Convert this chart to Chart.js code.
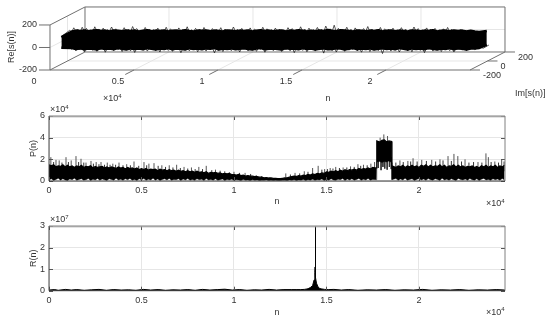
<!DOCTYPE html>
<html>
<head>
<meta charset="utf-8">
<script src="https://cdn.jsdelivr.net/npm/chart.js@4/dist/chart.umd.min.js"></script>
<style>
html,body{margin:0;padding:0;background:#fff;width:550px;height:323px;overflow:hidden}
canvas{position:absolute;left:0}
</style>
</head>
<body>
<canvas id="c1" width="550" height="105" style="top:0"></canvas>
<canvas id="c2" width="550" height="105" style="top:105px"></canvas>
<canvas id="c3" width="550" height="108" style="top:215px"></canvas>
<script>
// ---------- data ----------
const xTicks = [0, 5000, 10000, 15000, 20000];
const reTicks = [-200, 0, 200];
const imTicks = [-200, 0, 200];
const imEnds = [-70, 40];
const reCoreStepN = 250;
const reCoreTop = [40,62,70,66,72,64,70,74,66,70,62,72,68,64,72,66,70,62,68,74,64,70,66,72,62,68,70,64,74,66,62,70,68,72,64,70,66,62,72,68,
  64,70,66,72,62,68,74,66,70,64,68,72,62,70,66,74,68,62,70,64,72,66,76,68,64,74,70,66,62,72,68,64,70,66,74,62,68,72,64,70,66,62,72,68,64,70,66,74,62,68,70,64,72,66,70,62,68,62,58,50];
const reCoreBot = [-55,-84,-94,-88,-96,-90,-92,-98,-86,-94,-90,-96,-84,-92,-98,-88,-94,-90,-96,-86,-92,-98,-90,-94,-84,-96,-90,-92,-98,-86,-94,-90,-96,-88,-92,-84,-98,-90,-94,-88,
  -96,-92,-86,-94,-98,-90,-84,-96,-92,-88,-94,-98,-86,-92,-90,-96,-84,-94,-90,-98,-92,-88,-96,-94,-86,-90,-98,-92,-84,-96,-90,-94,-88,-98,-92,-86,-94,-90,-96,-84,-92,-98,-88,-94,-90,-96,-86,-92,-98,-90,-94,-84,-96,-88,-92,-98,-90,-88,-84,-72];
const reEdgeStepN = 125;
const reEdgeTop = [45,72,60,95,64,82,58,100,66,90,60,76,56,104,68,84,62,92,58,78,66,102,60,86,56,74,64,96,60,80,56,106,70,88,62,74,58,98,64,84,
  60,78,56,92,66,76,58,100,62,86,60,72,56,94,68,80,62,104,58,76,64,90,60,82,56,98,66,74,58,88,62,78,60,96,56,84,64,74,58,102,66,80,60,90,56,76,62,94,58,84,66,72,60,100,62,86,56,78,64,92,
  58,82,62,74,56,96,66,88,60,76,58,104,64,84,60,92,56,78,68,98,62,80,58,110,66,86,60,118,62,90,58,76,64,100,60,82,56,94,66,78,58,88,62,106,60,84,56,76,64,98,58,86,62,80,60,92,56,74,66,96,60,84,58,78,64,102,62,88,56,76,60,94,66,82,58,90,62,76,60,86,56,98,64,80,60,72,56,78,60,52];
const reEdgeBot = [-60,-80,-96,-78,-110,-84,-100,-76,-118,-82,-94,-80,-106,-78,-114,-86,-98,-76,-122,-84,-92,-80,-108,-78,-100,-84,-116,-76,-94,-82,-110,-78,-124,-86,-96,-80,-104,-76,-112,-84,
  -92,-78,-108,-82,-120,-76,-98,-84,-106,-80,-114,-78,-94,-82,-126,-86,-100,-76,-110,-84,-92,-80,-118,-78,-102,-82,-112,-76,-96,-84,-128,-80,-104,-78,-116,-86,-94,-76,-108,-82,-98,-80,-120,-78,-92,-84,-110,-76,-104,-82,-114,-80,-96,-78,-122,-86,-100,-76,-108,-84,
  -92,-80,-116,-78,-102,-82,-110,-76,-126,-84,-96,-80,-106,-78,-118,-86,-94,-76,-112,-82,-100,-80,-130,-78,-96,-84,-108,-76,-120,-82,-92,-80,-114,-78,-104,-86,-98,-76,-110,-84,-122,-80,-94,-78,-116,-82,-100,-76,-108,-84,-134,-80,-96,-78,-112,-82,-104,-76,-120,-86,-92,-80,-110,-78,-118,-84,-98,-76,-106,-82,-126,-80,-94,-78,-112,-84,-100,-76,-116,-82,-92,-80,-108,-78,-120,-86,-96,-76,-104,-82,-110,-80,-94,-78,-100,-84,-92,-82,-86,-74];

const pStepN = 125;
const pBlockEdgeIdx = [141, 142, 148, 149];
const pBlockEdgeN = [17700, 17720, 18520, 18540];
const pCore = [1.5,1.4,1.5,1.3,1.4,1.35,1.5,1.3,1.45,1.3,1.4,1.25,1.4,1.3,1.45,1.25,1.35,1.3,1.4,1.2,1.35,1.25,1.3,1.35,1.2,1.3,1.2,1.3,1.25,1.15,1.3,1.2,1.25,1.1,1.25,1.15,1.2,1.1,1.2,1.05,
  1.15,1.05,1.15,1.0,1.1,1.05,1.1,0.95,1.1,1.0,1.05,0.95,1.05,0.95,1.0,0.9,1.0,0.9,0.95,0.85,0.95,0.85,0.9,0.8,0.9,0.8,0.85,0.75,0.85,0.7,0.8,0.75,0.8,0.7,0.75,0.65,0.7,0.65,0.7,0.6,
  0.6,0.55,0.6,0.5,0.55,0.45,0.5,0.45,0.45,0.4,0.4,0.35,0.35,0.3,0.32,0.28,0.28,0.25,0.25,0.22,0.22,0.25,0.28,0.3,0.35,0.4,0.45,0.42,0.5,0.45,0.55,0.5,0.6,0.55,0.65,0.6,0.7,0.65,0.75,0.7,
  0.85,0.8,0.9,0.85,0.95,0.85,1.0,0.9,1.05,0.95,1.05,1.0,1.1,1.0,1.15,1.05,1.15,1.1,1.2,1.1,1.25,1.2,
  3.7,3.6,3.75,3.8,3.6,3.7,3.65,
  1.4,1.25,1.4,1.3,1.45,1.25,1.4,1.3,1.45,1.3,1.4,1.25,1.45,1.35,1.5,1.3,1.45,1.3,1.4,1.35,1.5,1.3,1.45,1.25,1.4,1.35,1.5,1.3,1.45,1.3,1.4,1.25,1.35,1.3,1.4,1.25,1.35,1.2,1.4,1.3,1.45,1.25,1.4,1.3,1.45,1.25,1.4,1.3,1.45];
const pLower = [0.1,0.2,0.05,0.15,0.25,0.08,0.2,0.1,0.05,0.18,0.12,0.25,0.06,0.15,0.2,0.08,0.12,0.22,0.05,0.16,0.1,0.24,0.07,0.18,0.12,0.05,0.2,0.14,0.08,0.25,0.1,0.16,0.06,0.2,0.12,0.24,0.08,0.15,0.05,0.2,
  0.12,0.22,0.06,0.16,0.1,0.25,0.08,0.18,0.05,0.14,0.2,0.1,0.24,0.07,0.15,0.12,0.2,0.05,0.18,0.1,0.22,0.08,0.14,0.06,0.2,0.12,0.16,0.05,0.22,0.1,0.15,0.08,0.2,0.06,0.12,0.18,0.05,0.14,0.1,0.16,
  0.06,0.12,0.1,0.05,0.14,0.08,0.1,0.05,0.12,0.06,0.1,0.04,0.08,0.06,0.1,0.04,0.08,0.05,0.06,0.04,0.05,0.06,0.08,0.04,0.1,0.06,0.12,0.05,0.1,0.08,0.14,0.05,0.12,0.08,0.16,0.06,0.12,0.1,0.18,0.05,
  0.14,0.08,0.2,0.1,0.06,0.16,0.12,0.22,0.05,0.18,0.1,0.2,0.08,0.14,0.24,0.06,0.16,0.1,0.22,0.08,0.15,0.12,
  1.75,1.8,1.7,1.8,1.75,1.85,1.7,
  0.12,0.22,0.06,0.18,0.1,0.25,0.08,0.15,0.2,0.05,0.14,0.24,0.1,0.18,0.06,0.22,0.12,0.08,0.2,0.15,0.05,0.25,0.1,0.16,0.08,0.2,0.12,0.05,0.24,0.14,0.1,0.18,0.06,0.22,0.12,0.08,0.2,0.05,0.16,0.24,0.1,0.14,0.06,0.2,0.12,0.18,0.08,0.22,0.1];
const pSpikeN = [100,378,550,919,1200,1459,1730,2000,2270,2550,2811,3150,3450,3784,4200,4595,5135,5400,5676,6100,6500,6900,7300,7700,8100,8500,9000,9500,10000,10600,11200,12800,13300,13800,14250,14550,14900,15200,15500,15900,16300,16700,17000,17400,17600,
  17900,18100,18300,18970,19400,19680,20150,20690,21135,21570,21890,22100,22490,23190,23620,23750,24100,24470];
const pSpikeV = [2.2,1.95,1.9,2.2,1.9,2.3,2.05,1.7,1.85,1.75,1.75,1.7,1.6,1.7,1.55,1.8,1.75,1.6,1.65,1.45,1.45,1.5,1.3,1.25,1.3,1.4,1.05,0.9,0.85,0.75,0.55,0.7,0.75,0.9,1.2,1.4,1.1,1.2,1.3,1.25,1.35,1.55,1.5,1.6,1.75,
  4.0,4.3,4.15,1.9,1.85,2.1,1.95,1.95,2.0,2.3,2.5,2.3,2.0,1.75,2.55,2.2,1.8,2.0];
const pMinorN = [250,700,1050,1600,1880,2400,2700,3000,3300,3600,4000,4400,4850,5280,5900,6300,6700,7100,7500,7900,8300,8800,9250,9750,10300,10900,11500,13050,13550,14000,14750,15050,15350,15700,16100,16500,16850,17200,18750,19150,19550,19900,20400,20900,21300,21750,22300,22700,22950,23400,23900,24300,24600];
const pMinorV = [1.75,1.7,1.75,1.75,1.7,1.6,1.55,1.5,1.5,1.5,1.45,1.45,1.4,1.45,1.4,1.3,1.25,1.2,1.15,1.1,1.1,1.0,0.95,0.8,0.75,0.65,0.45,0.6,0.7,0.85,1.05,1.1,1.15,1.2,1.25,1.3,1.4,1.45,1.7,1.75,1.8,1.8,1.85,1.8,1.9,1.85,1.8,1.7,1.75,1.7,1.75,1.7,1.8];
const pDipN = [17800,17950,18050,18150,18280,18400,18500];
const pDipV = [1.2,1.0,1.3,1.15,1.05,1.3,1.1];

const rN = [0,300,500,900,1200,1500,1900,2300,2700,3100,3500,3900,4300,4700,5100,5500,5900,6300,6700,7100,7500,7900,8300,8700,9100,9500,9900,10300,10700,11100,11500,11900,12300,12700,13100,13400,13600,13800,13950,14050,14150,14250,14330,14370,14385,14395,14405,14420,14460,14540,14640,14750,14900,15100,15400,15800,16200,16700,17200,17700,18200,18700,19200,19700,20200,20700,21200,21700,22200,22700,23200,23700,24200,24650];
const rVal = [0.03,0.05,0.02,0.06,0.03,0.05,0.02,0.04,0.06,0.02,0.05,0.03,0.04,0.02,0.06,0.03,0.05,0.02,0.04,0.03,0.05,0.02,0.06,0.03,0.05,0.07,0.03,0.05,0.02,0.04,0.03,0.06,0.03,0.05,0.05,0.05,0.05,0.06,0.08,0.11,0.16,0.24,0.5,0.85,1.1,3.0,1.0,0.6,0.35,0.18,0.1,0.08,0.06,0.05,0.06,0.03,0.05,0.02,0.04,0.03,0.05,0.02,0.04,0.03,0.06,0.02,0.04,0.03,0.05,0.02,0.04,0.03,0.05,0.03];

// ---------- shared ----------
const FONT = '"Liberation Sans", Arial, sans-serif';
const TXT = '#333333';
const GRID = '#e6e6e6';
const AXIS = '#707070';
Chart.defaults.font.family = FONT;
Chart.defaults.font.size = 9;
Chart.defaults.color = TXT;
Chart.defaults.animation = false;

function scaledText(ctx, x, y, exp) {
  ctx.save();
  ctx.fillStyle = TXT;
  ctx.textAlign = 'left';
  ctx.textBaseline = 'middle';
  ctx.font = '9px ' + FONT;
  ctx.fillText('\u00d710', x, y);
  const w = ctx.measureText('\u00d710').width;
  ctx.font = '6px ' + FONT;
  ctx.fillText(exp, x + w, y - 3);
  ctx.restore();
}

// ---------- 3-D panel ----------
const PX_PER_IM_X = 5.208, RE_PER_IM = 0.4;
function projN(n, im) { return n + (im + 200) * PX_PER_IM_X; }
function projRe(re, im) { return re + (im + 200) * RE_PER_IM; }
function edgeIm(i, len) { return i === 0 ? imEnds[0] : i === len - 1 ? imEnds[1] : 0; }
const band = (arr, step) => arr.map((v, i) => ({
  x: projN(i * step, edgeIm(i, arr.length)),
  y: projRe(v, edgeIm(i, arr.length))
}));

const boxPlugin = {
  id: 'box',
  beforeDatasetsDraw(chart) {
    const c = chart.ctx, X = chart.scales.x, Y = chart.scales.y;
    const P = (n, im, re) => [X.getPixelForValue(projN(n, im)), Y.getPixelForValue(projRe(re, im))];
    const seg = (a, b, col, w) => {
      c.beginPath(); c.moveTo(a[0], a[1]); c.lineTo(b[0], b[1]);
      c.strokeStyle = col; c.lineWidth = w || 1; c.stroke();
    };
    const N = 25000;
    c.save();
    xTicks.slice(1).forEach(n => {
      seg(P(n, -200, -200), P(n, 200, -200), GRID);
      seg(P(n, 200, -200), P(n, 200, 200), GRID);
    });
    seg(P(0, 200, 0), P(N, 200, 0), GRID);
    seg(P(0, -200, 0), P(0, 200, 0), GRID);
    seg(P(0, 0, -200), P(N, 0, -200), GRID);
    seg(P(0, 0, -200), P(0, 0, 200), GRID);
    seg(P(0, -200, 200), P(0, 200, 200), AXIS);
    seg(P(0, 200, 200), P(N, 200, 200), AXIS);
    seg(P(N, 200, 200), P(N, 200, -200), AXIS);
    seg(P(0, 200, 200), P(0, 200, -200), AXIS);
    seg(P(0, 200, -200), P(N, 200, -200), AXIS);
    seg(P(0, -200, 200), P(0, -200, -200), AXIS);
    seg(P(0, -200, -200), P(N, -200, -200), AXIS);
    seg(P(0, -200, -200), P(0, 200, -200), AXIS);
    seg(P(N, -200, -200), P(N, 200, -200), AXIS);
    c.fillStyle = TXT; c.font = '9px ' + FONT;
    c.textBaseline = 'middle';
    c.textAlign = 'center';
    xTicks.forEach(n => {
      const a = P(n, -200, -200);
      if (n > 0) seg(a, P(n, -300, -200), AXIS);
      c.fillText(String(n / 10000), a[0] - 16, a[1] + 12);
    });
    c.textAlign = 'right';
    reTicks.forEach(r => {
      const a = P(0, -200, r);
      seg([a[0] - 11, a[1]], a, AXIS);
      c.fillText(String(r), a[0] - 13, a[1]);
    });
    c.textAlign = 'left';
    imTicks.forEach(m => {
      const a = P(N, m, -200);
      seg(a, [a[0] + 10, a[1]], AXIS);
      c.fillText(String(m), a[0] + 13, a[1] + 6);
    });
    c.fillText('Im[s(n)]', 515, 94);
    c.textAlign = 'center';
    c.fillText('n', 328, 99);
    c.save();
    c.translate(12, 47); c.rotate(-Math.PI / 2);
    c.fillText('Re[s(n)]', 0, 0);
    c.restore();
    c.restore();
    scaledText(c, 103, 99, '4');
  }
};

new Chart(document.getElementById('c1'), {
  type: 'line',
  data: { datasets: [
    { data: band(reCoreTop, reCoreStepN), borderColor: '#000', borderWidth: 2.5, borderJoinStyle: 'round', pointRadius: 0, tension: 0, fill: '+1', backgroundColor: '#000' },
    { data: band(reCoreBot, reCoreStepN), borderColor: '#000', borderWidth: 2.5, borderJoinStyle: 'round', pointRadius: 0, tension: 0, fill: false },
    { data: band(reEdgeTop, reEdgeStepN), borderColor: '#111', borderWidth: 0.7, pointRadius: 0, tension: 0, fill: false },
    { data: band(reEdgeBot, reEdgeStepN), borderColor: '#111', borderWidth: 0.7, pointRadius: 0, tension: 0, fill: false }
  ]},
  plugins: [boxPlugin],
  options: {
    responsive: false,
    parsing: false,
    layout: { padding: 0 },
    plugins: { legend: { display: false }, tooltip: { enabled: false } },
    scales: {
      x: { type: 'linear', display: false, min: -2976, max: 29762 },
      y: { type: 'linear', display: false, min: -511, max: 422 }
    }
  }
});

// ---------- 2-D panels ----------
const framePlugin = {
  id: 'frame',
  afterDatasetsDraw(chart, args, opts) {
    const c = chart.ctx, a = chart.chartArea, X = chart.scales.x, Y = chart.scales.y;
    c.save();
    c.lineWidth = 1;
    const line = (x0, y0, x1, y1, col) => {
      c.beginPath(); c.moveTo(x0, y0); c.lineTo(x1, y1); c.strokeStyle = col; c.stroke();
    };
    X.ticks.forEach(t => {
      const x = Math.round(X.getPixelForValue(t.value)) + 0.5;
      line(x, a.top, x, a.top + 4, '#555');
      line(x, a.bottom, x, a.bottom - 4, '#555');
    });
    Y.ticks.forEach(t => {
      const y = Math.round(Y.getPixelForValue(t.value)) + 0.5;
      line(a.left, y, a.left + 4, y, '#555');
      line(a.right, y, a.right - 4, y, '#555');
    });
    line(a.left, a.top, a.right, a.top, '#808080');
    line(a.left, a.top + 0.8, a.right, a.top + 0.8, '#a0a0a0');
    line(a.right, a.top, a.right, a.bottom, '#808080');
    line(a.left, a.top, a.left, a.bottom, '#444');
    line(a.left, a.bottom, a.right, a.bottom, '#333');
    c.restore();
    scaledText(c, a.left + 1, a.top - 6, opts.exp);
    scaledText(c, a.right - 19, a.bottom + opts.expDy, '4');
  }
};

function panel(id, datasets, yTitle, yMax, yTickVals, yDiv, exp, bottomH, titlePadBottom, expDy) {
  return new Chart(document.getElementById(id), {
    type: 'line',
    data: { datasets },
    plugins: [framePlugin],
    options: {
      responsive: false,
      parsing: false,
      layout: { padding: { left: 0, right: 45, top: 11, bottom: 0 } },
      plugins: {
        legend: { display: false }, tooltip: { enabled: false },
        frame: { exp, expDy }
      },
      scales: {
        x: {
          type: 'linear', min: 0, max: 24650,
          afterFit: s => { s.height = bottomH; },
          afterBuildTicks: s => { s.ticks = xTicks.map(value => ({ value })); },
          grid: { color: GRID, drawTicks: false },
          border: { display: false },
          title: { display: true, text: 'n', font: { size: 9 }, padding: { top: 0, bottom: titlePadBottom } },
          ticks: { autoSkip: false, maxRotation: 0, padding: 4,
                   callback: v => String(v / 10000) }
        },
        y: {
          type: 'linear', min: 0, max: yMax,
          afterFit: s => { s.width = 49; },
          afterBuildTicks: s => { s.ticks = yTickVals.map(value => ({ value })); },
          grid: { color: GRID, drawTicks: false },
          border: { display: false },
          title: { display: true, text: yTitle, font: { size: 9 }, padding: { top: 28, bottom: 0 } },
          ticks: { autoSkip: false, padding: 4,
                   callback: v => String(v / yDiv) }
        }
      }
    }
  });
}

const pPts = arr => arr.map((v, i) => {
  const e = pBlockEdgeIdx.indexOf(i);
  return { x: e >= 0 ? pBlockEdgeN[e] : i * pStepN, y: v * 1e4 };
});
const spikes = (ns, vs) => ns.flatMap((n, i) => [
  { x: n, y: vs[i] * 0.5e4 }, { x: n, y: vs[i] * 1e4 }, { x: n, y: NaN }
]);
const pDips = pDipN.flatMap((n, i) => [
  { x: n, y: 2.2e4 }, { x: n, y: pDipV[i] * 1e4 }, { x: n, y: NaN }
]);
panel('c2', [
  { data: pPts(pCore), borderColor: '#000', borderWidth: 1.2, pointRadius: 0, tension: 0, fill: '+1', backgroundColor: '#000' },
  { data: pPts(pLower), borderColor: '#000', borderWidth: 0.4, pointRadius: 0, tension: 0, fill: false },
  { data: spikes(pSpikeN, pSpikeV), borderColor: '#555', borderWidth: 1, pointRadius: 0, tension: 0, fill: false, spanGaps: false },
  { data: spikes(pMinorN, pMinorV), borderColor: '#333', borderWidth: 1, pointRadius: 0, tension: 0, fill: false, spanGaps: false },
  { data: pDips, borderColor: '#333', borderWidth: 1, pointRadius: 0, tension: 0, fill: false, spanGaps: false }
], 'P(n)', 6e4, [0, 2e4, 4e4, 6e4], 1e4, '4', 29, 3, 23);

panel('c3', [
  { data: rN.map((n, i) => ({ x: n, y: rVal[i] * 1e7 })), borderColor: '#000', borderWidth: 1, pointRadius: 0, tension: 0, fill: 'origin', backgroundColor: '#000' }
], 'R(n)', 3e7, [0, 1e7, 2e7, 3e7], 1e7, '7', 32.3, 5.5, 22);
</script>
</body>
</html>
